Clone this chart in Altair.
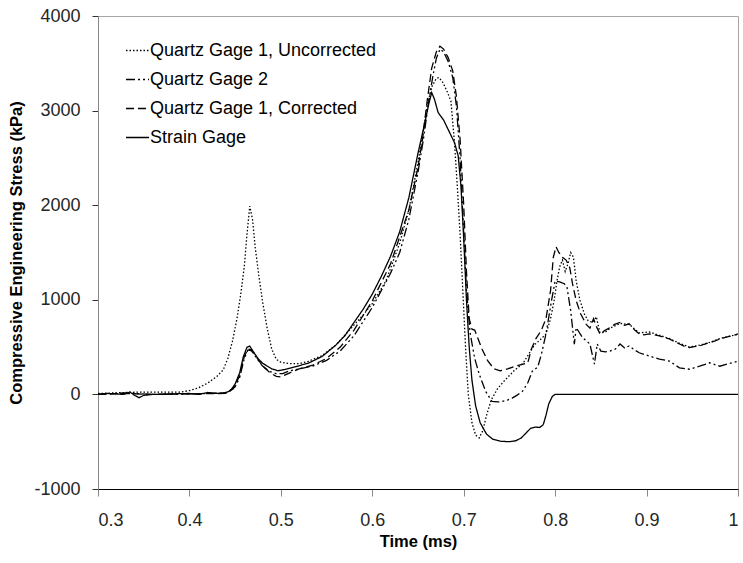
import altair as alt
import pandas as pd

series_names = ["Quartz Gage 1, Uncorrected", "Quartz Gage 2",
                "Quartz Gage 1, Corrected", "Strain Gage"]

# Quartz Gage 1, Uncorrected (dotted)
q1u_t = [0.300, 0.330, 0.350, 0.390, 0.400, 0.410, 0.420, 0.430, 0.437, 0.442, 0.447, 0.452,
         0.456, 0.460, 0.463, 0.466, 0.469, 0.472, 0.476, 0.480, 0.485, 0.490, 0.495, 0.500,
         0.510, 0.520, 0.530, 0.545, 0.560, 0.575, 0.590, 0.600, 0.615, 0.630, 0.640, 0.650,
         0.656, 0.660, 0.665, 0.670, 0.673, 0.677, 0.682, 0.686, 0.690, 0.693, 0.696, 0.699,
         0.702, 0.705, 0.709, 0.713, 0.717, 0.721, 0.725, 0.730, 0.737, 0.745, 0.755, 0.765,
         0.772, 0.778, 0.784, 0.790, 0.795, 0.799, 0.802, 0.805, 0.808, 0.811, 0.814, 0.817,
         0.820, 0.823, 0.827, 0.832, 0.836, 0.841, 0.845, 0.849, 0.855, 0.860, 0.871, 0.881,
         0.892, 0.903, 0.914, 0.925, 0.936, 0.947, 0.958, 0.969, 0.980, 0.993, 1.000]
q1u_v = [10, 20, 25, 25, 40, 70, 120, 190, 260, 380, 560, 800,
         1050, 1350, 1700, 1990, 1850, 1550, 1250, 980, 700, 480, 370, 340,
         325, 325, 350, 410, 520, 680, 840, 960, 1200, 1600, 1950, 2450,
         2800, 3050, 3250, 3340, 3350, 3300, 3200, 3100, 2650, 2200, 1700, 1100,
         500, 0, -300, -430, -460, -380, -220, -60, 60, 150, 250, 330,
         440, 530, 580, 640, 800, 1000, 1200, 1350, 1420, 1300, 1380, 1500,
         1450, 1200, 1000, 850, 780, 760, 820, 650, 660, 700, 750, 740,
         650, 660, 625, 590, 540, 500, 520, 550, 590, 620, 635]

# Quartz Gage 2 (dash-dot)
q2_t = [0.300, 0.330, 0.360, 0.400, 0.440, 0.450, 0.455, 0.460, 0.464, 0.468, 0.473, 0.480,
        0.488, 0.495, 0.502, 0.510, 0.520, 0.535, 0.550, 0.565, 0.580, 0.600, 0.620, 0.630,
        0.640, 0.650, 0.656, 0.661, 0.666, 0.670, 0.674, 0.678, 0.683, 0.688, 0.692, 0.696,
        0.700, 0.703, 0.707, 0.712, 0.717, 0.724, 0.731, 0.737, 0.742, 0.748, 0.753, 0.758,
        0.764, 0.770, 0.775, 0.781, 0.785, 0.790, 0.796, 0.800, 0.805, 0.810, 0.813, 0.817,
        0.821, 0.823, 0.830, 0.838, 0.843, 0.846, 0.850, 0.855, 0.860, 0.866, 0.871, 0.876,
        0.881, 0.887, 0.892, 0.903, 0.914, 0.925, 0.936, 0.947, 0.958, 0.969, 0.980, 0.993,
        1.000]
q2_v = [0, 15, 0, 5, 15, 80, 180, 380, 470, 460, 390, 300,
        240, 220, 220, 250, 270, 300, 360, 460, 620, 920, 1280, 1500,
        1850, 2350, 2700, 3050, 3350, 3550, 3650, 3620, 3520, 3350, 3050, 2500,
        1700, 1100, 650, 380, 213, 32, -75, -80, -75, -60, -39, -10,
        30, 120, 245, 290, 426, 640, 990, 1200, 1190, 1170, 1130, 885,
        530, 706, 600, 533, 320, 533, 458, 450, 458, 480, 533, 490,
        512, 470, 440, 405, 373, 352, 280, 266, 298, 334, 298, 334,
        350]

# Quartz Gage 1, Corrected (dashed)
q1c_t = [0.300, 0.330, 0.360, 0.400, 0.440, 0.448, 0.455, 0.460, 0.464, 0.468, 0.473, 0.480,
         0.488, 0.495, 0.500, 0.508, 0.520, 0.535, 0.550, 0.565, 0.580, 0.600, 0.620, 0.640,
         0.650, 0.655, 0.660, 0.665, 0.670, 0.674, 0.678, 0.683, 0.688, 0.692, 0.696, 0.700,
         0.703, 0.706, 0.709, 0.712, 0.716, 0.720, 0.726, 0.733, 0.740, 0.748, 0.757, 0.765,
         0.770, 0.774, 0.779, 0.785, 0.790, 0.795, 0.798, 0.801, 0.804, 0.808, 0.812, 0.816,
         0.819, 0.823, 0.828, 0.834, 0.838, 0.842, 0.845, 0.849, 0.855, 0.860, 0.865, 0.871,
         0.876, 0.881, 0.887, 0.892, 0.897, 0.903, 0.908, 0.914, 0.920, 0.925, 0.930, 0.936,
         0.941, 0.947, 0.952, 0.958, 0.963, 0.969, 0.975, 0.980, 0.987, 0.993, 1.000]
q1c_v = [0, 10, 0, 5, 10, 60, 200, 400, 480, 470, 400, 300,
         230, 190, 185, 220, 270, 310, 380, 500, 680, 990, 1380, 1950,
         2400, 2700, 3100, 3450, 3620, 3680, 3650, 3560, 3420, 3150, 2700, 2000,
         1300, 800, 690, 680, 580, 480, 360, 270, 250, 270, 300, 320,
         330, 480, 590, 680, 800, 1100, 1450, 1560, 1500, 1450, 1420, 1340,
         1170, 990, 850, 740, 700, 800, 720, 640, 680, 706, 740, 760,
         730, 746, 680, 640, 630, 640, 630, 618, 600, 586, 560, 533,
         510, 494, 505, 512, 530, 547, 565, 586, 605, 618, 640]

# Strain Gage (solid)
sg_t = [0.300, 0.310, 0.320, 0.328, 0.335, 0.340, 0.345, 0.350, 0.360, 0.380, 0.400, 0.410,
        0.420, 0.430, 0.440, 0.445, 0.450, 0.455, 0.459, 0.463, 0.466, 0.470, 0.475, 0.480,
        0.490, 0.497, 0.505, 0.515, 0.530, 0.545, 0.560, 0.570, 0.580, 0.590, 0.600, 0.610,
        0.620, 0.630, 0.640, 0.650, 0.657, 0.662, 0.665, 0.668, 0.672, 0.678, 0.685, 0.690,
        0.694, 0.697, 0.700, 0.703, 0.706, 0.709, 0.713, 0.718, 0.725, 0.732, 0.740, 0.750,
        0.757, 0.763, 0.768, 0.773, 0.778, 0.783, 0.787, 0.790, 0.793, 0.797, 0.800, 0.850,
        0.900, 0.950, 1.000]
sg_v = [0, 10, 5, 0, 25, -10, -35, -10, 0, 5, 10, 0,
        20, 10, 20, 40, 110, 230, 400, 500, 510, 450, 380, 330,
        270, 250, 265, 290, 330, 400, 520, 620, 760, 900, 1060, 1250,
        1460, 1720, 2080, 2550, 2850, 3080, 3190, 3120, 2980, 2900, 2760, 2660,
        2520, 2200, 1650, 1000, 500, 150, -120, -300, -420, -475, -495, -500,
        -490, -460, -410, -360, -345, -350, -320, -220, -100, -20, 0, 0,
        0, 0, 0]

x_ticks = [0.3, 0.4, 0.5, 0.6, 0.7, 0.8, 0.9, 1.0]
y_ticks = [-1000, 0, 1000, 2000, 3000, 4000]

frames = []
for name, t, v in [(series_names[0], q1u_t, q1u_v), (series_names[1], q2_t, q2_v),
                   (series_names[2], q1c_t, q1c_v), (series_names[3], sg_t, sg_v)]:
    frames.append(pd.DataFrame({"t": t, "v": v, "series": name, "order": range(len(t))}))
df = pd.concat(frames, ignore_index=True)

FONT = "Liberation Sans"

chart = alt.Chart(df).mark_line(strokeWidth=1.3, color="black").encode(
    x=alt.X("t:Q", title="Time (ms)",
            scale=alt.Scale(domain=[0.3, 1.0], nice=False, zero=False),
            axis=alt.Axis(values=x_ticks, format=".1~f", grid=False,
                          domainColor="#000000", tickColor="#888888", tickSize=7,
                          labelPadding=15, titlePadding=4)),
    y=alt.Y("v:Q", title="Compressive Engineering Stress (kPa)",
            scale=alt.Scale(domain=[-1000, 4000], nice=False),
            axis=alt.Axis(values=y_ticks, grid=False,
                          labelExpr="datum.value < 0 ? '-' + abs(datum.value) : '' + datum.value",
                          domainColor="#888888", tickColor="#333333", tickSize=6,
                          labelPadding=12, titlePadding=9)),
    strokeDash=alt.StrokeDash("series:N",
                              scale=alt.Scale(domain=series_names,
                                              range=[[1.5, 2], [9, 3, 2, 3, 2, 3], [8, 4], [1, 0]]),
                              legend=alt.Legend(title=None, orient="none", legendX=27, legendY=22,
                                                symbolType="stroke", symbolSize=529,
                                                symbolStrokeWidth=1.3, symbolStrokeColor="black",
                                                labelFont=FONT, labelFontSize=18, labelColor="#000000",
                                                labelLimit=400, labelOffset=0, rowPadding=7)),
    order="order:Q",
).properties(
    width=640, height=473,
    autosize=alt.AutoSizeParams(type="none"),
    padding={"left": 98, "top": 16, "right": 5, "bottom": 74},
).configure_view(
    stroke="#a6a6a6", strokeWidth=1
).configure_axis(
    labelFont=FONT, labelFontSize=18, labelColor="#262626",
    titleFont=FONT, titleFontSize=16.5, titleFontWeight="bold", titleColor="#000000",
    domainWidth=1, tickWidth=1
)

chart.save("out.html", embed_options={"renderer": "svg", "actions": False})
